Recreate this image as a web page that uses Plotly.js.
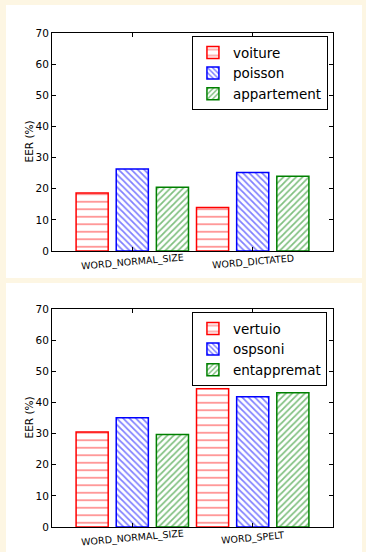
<!DOCTYPE html>
<html>
<head>
<meta charset="utf-8">
<script src="https://cdn.plot.ly/plotly-3.0.1.min.js"></script>
<style>
  html, body { margin: 0; padding: 0; background: #fdf6e3; width: 366px; height: 552px; overflow: hidden; }
  #p1 { position: absolute; left: 6px; top: 5px; width: 356px; height: 273px; }
  #p2 { position: absolute; left: 6px; top: 283px; width: 356px; height: 269px; }
</style>
</head>
<body>
<div id="p1"></div>
<div id="p2"></div>
<script>
// ---- data ----
const categoriesTop = ['WORD_NORMAL_SIZE', 'WORD_DICTATED'];
const namesTop = ['voiture', 'poisson', 'appartement'];
const voiture = [18.6, 14.0];
const poisson = [26.3, 25.2];
const appartement = [20.5, 24.0];

const categoriesBottom = ['WORD_NORMAL_SIZE', 'WORD_SPELT'];
const namesBottom = ['vertuio', 'ospsoni', 'entappremat'];
const vertuio = [30.5, 44.4];
const ospsoni = [35.1, 41.8];
const entappremat = [29.7, 43.1];

const yTickVals = [0, 10, 20, 30, 40, 50, 60, 70];
const yTitle = 'EER (%)';

// ---- styles ----
const FONT = 'DejaVu Sans, sans-serif';
const colors = ['#ff0000', '#0000ff', '#008000'];
const shapes = ['-', '\\', '/'];
const sizes = [7.5, 4.5, 4.5];
const solid = [0.2, 0.38, 0.38];

function makeTraces(cats, names, series) {
  return series.map((vals, i) => ({
    type: 'bar',
    name: names[i],
    x: cats,
    y: vals,
    marker: {
      color: 'white',
      line: { color: colors[i], width: 1.5 },
      pattern: { shape: shapes[i], fgcolor: colors[i], bgcolor: 'white', size: sizes[i], solidity: solid[i], fillmode: 'overlay' }
    },
    hoverinfo: 'skip'
  }));
}

function makeLayout(cats, marginT, marginB, legY) {
  const anns = cats.map(c => ({
    x: c, y: 0, xref: 'x', yref: 'y',
    text: c, showarrow: false, textangle: -5,
    xanchor: 'center', yanchor: 'middle', yshift: -10.5,
    font: { family: FONT, size: 9.5, color: 'black' }
  }));
  anns.push({
    x: 0, y: 0.5, xref: 'paper', yref: 'paper',
    text: yTitle, showarrow: false, textangle: -90,
    xanchor: 'center', yanchor: 'middle', xshift: -23.5,
    font: { family: FONT, size: 10.5, color: 'black' }
  });
  return {
    width: 356,
    height: marginT + 218 + marginB,
    paper_bgcolor: 'white',
    plot_bgcolor: 'white',
    margin: { l: 46, r: 29, t: marginT, b: marginB },
    barmode: 'group',
    bargap: 0,
    bargroupgap: 0.2,
    showlegend: true,
    legend: {
      x: 0.498, y: legY, xanchor: 'left', yanchor: 'top',
      bordercolor: 'black', borderwidth: 1, bgcolor: 'white',
      font: { family: FONT, size: 13.5, color: 'black' },
      itemwidth: 30, traceorder: 'normal'
    },
    annotations: anns,
    xaxis: {
      range: [-2/3, 5/3],
      showline: true, linecolor: 'black', linewidth: 1, mirror: 'ticks',
      ticks: 'inside', ticklen: 4, tickcolor: 'black',
      showticklabels: false,
      showgrid: false, zeroline: false, fixedrange: true
    },
    yaxis: {
      range: [0, 70],
      tickvals: yTickVals,
      showline: true, linecolor: 'black', linewidth: 1, mirror: 'ticks',
      ticks: 'inside', ticklen: 4, tickcolor: 'black',
      tickfont: { family: FONT, size: 10.5, color: 'black' },
      showgrid: false, zeroline: false, fixedrange: true
    },
    font: { family: FONT, color: 'black' }
  };
}

Plotly.newPlot('p1', makeTraces(categoriesTop, namesTop, [voiture, poisson, appartement]),
  makeLayout(categoriesTop, 28, 27, 0.985), { staticPlot: true, displayModeBar: false });
Plotly.newPlot('p2', makeTraces(categoriesBottom, namesBottom, [vertuio, ospsoni, entappremat]),
  makeLayout(categoriesBottom, 26, 25, 0.985), { staticPlot: true, displayModeBar: false });
</script>
</body>
</html>
